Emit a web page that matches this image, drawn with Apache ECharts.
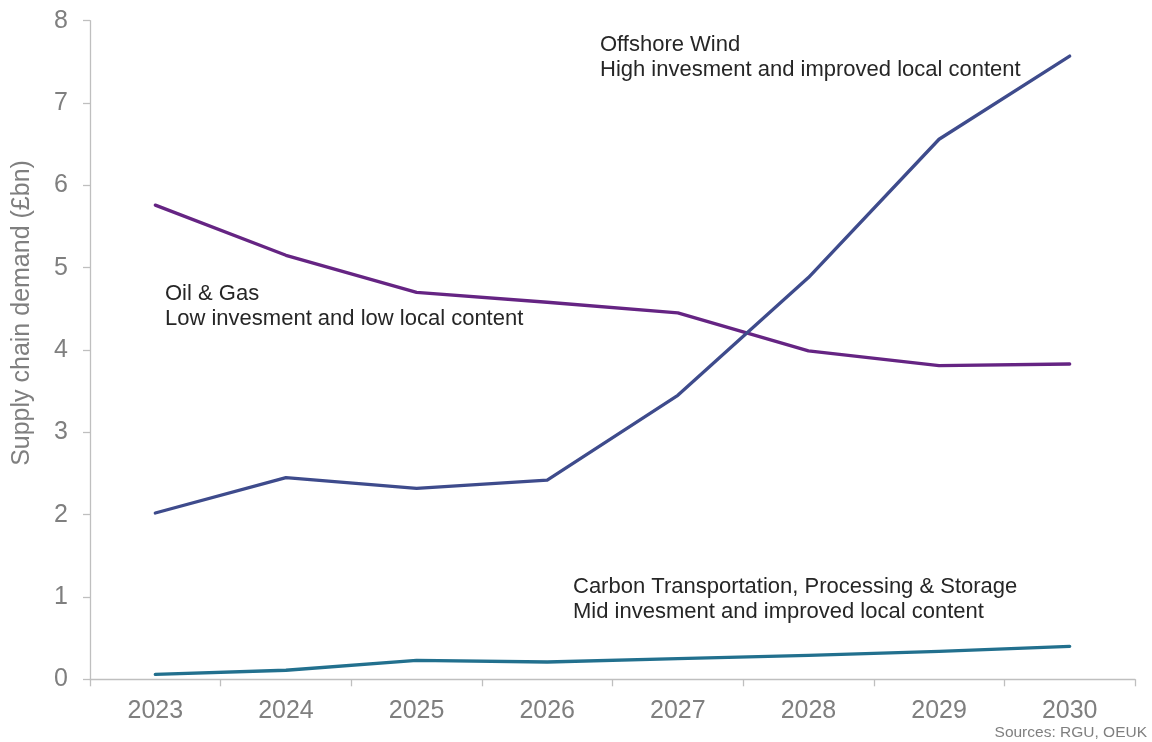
<!DOCTYPE html>
<html>
<head>
<meta charset="utf-8">
<script src="https://cdn.jsdelivr.net/npm/echarts@6/dist/echarts.min.js"></script>
<style>
  html, body { margin: 0; padding: 0; background: #ffffff; }
  #chart { width: 1152px; height: 742px; }
</style>
</head>
<body>
<div id="chart"></div>
<script>
// Supply chain demand by sector, £bn
const years = ['2023', '2024', '2025', '2026', '2027', '2028', '2029', '2030'];
const oilGas = [5.76, 5.15, 4.70, 4.58, 4.45, 3.99, 3.81, 3.83];
const offshoreWind = [2.02, 2.45, 2.32, 2.42, 3.45, 4.88, 6.56, 7.57];
const carbonTPS = [0.06, 0.11, 0.23, 0.21, 0.25, 0.29, 0.34, 0.40];
const yTicks = [0, 1, 2, 3, 4, 5, 6, 7, 8];

const FONT = '"Liberation Sans", Arial, sans-serif';
const AXIS_GREY = '#bfbfbf';
const LABEL_GREY = '#7f7f7f';
const NOTE_COLOR = '#262626';

const chart = echarts.init(document.getElementById('chart'), null, { renderer: 'canvas' });

function lineSeries(name, data, color) {
  return {
    name: name,
    type: 'line',
    data: data,
    symbol: 'none',
    smooth: false,
    lineStyle: { color: color, width: 3.3, cap: 'round', join: 'round' },
    itemStyle: { color: color },
    emphasis: { disabled: true }
  };
}

function note(x, y, text) {
  return {
    type: 'text',
    left: x,
    top: y,
    silent: true,
    style: {
      text: text,
      fill: NOTE_COLOR,
      font: '22px ' + FONT,
      lineHeight: 25,
      align: 'left',
      verticalAlign: 'top'
    }
  };
}

chart.setOption({
  animation: false,
  backgroundColor: '#ffffff',
  textStyle: { fontFamily: FONT },
  grid: { left: 90, right: 17, top: 20.7, bottom: 62.7, containLabel: false },
  xAxis: {
    type: 'category',
    data: years,
    boundaryGap: true,
    axisLine: { show: true, lineStyle: { color: AXIS_GREY, width: 1.3 } },
    axisTick: { show: true, inside: false, length: 7, alignWithLabel: false, lineStyle: { color: AXIS_GREY, width: 1.3 } },
    axisLabel: { color: LABEL_GREY, fontSize: 25, fontFamily: FONT, margin: 19 },
    splitLine: { show: false }
  },
  yAxis: {
    type: 'value',
    min: yTicks[0],
    max: yTicks[yTicks.length - 1],
    interval: 1,
    axisLine: { show: true, lineStyle: { color: AXIS_GREY, width: 1.3 } },
    axisTick: { show: true, inside: false, length: 7, lineStyle: { color: AXIS_GREY, width: 1.3 } },
    axisLabel: { color: LABEL_GREY, fontSize: 25, fontFamily: FONT, margin: 22 },
    splitLine: { show: false }
  },
  series: [
    lineSeries('Oil & Gas', oilGas, '#652483'),
    lineSeries('Offshore Wind', offshoreWind, '#3e4b8c'),
    lineSeries('Carbon Transportation, Processing & Storage', carbonTPS, '#22708e')
  ],
  graphic: [
    {
      type: 'text',
      x: 22,
      y: 313,
      rotation: Math.PI / 2,
      silent: true,
      style: {
        text: 'Supply chain demand (£bn)',
        fill: LABEL_GREY,
        font: '25px ' + FONT,
        align: 'center',
        verticalAlign: 'middle'
      }
    },
    note(600, 32, 'Offshore Wind\nHigh invesment and improved local content'),
    note(165, 281, 'Oil & Gas\nLow invesment and low local content'),
    note(573, 574, 'Carbon Transportation, Processing & Storage\nMid invesment and improved local content'),
    {
      type: 'text',
      right: 5,
      top: 725,
      silent: true,
      style: {
        text: 'Sources: RGU, OEUK',
        fill: LABEL_GREY,
        font: '15.5px ' + FONT,
        align: 'right',
        verticalAlign: 'top'
      }
    }
  ]
});
</script>
</body>
</html>
